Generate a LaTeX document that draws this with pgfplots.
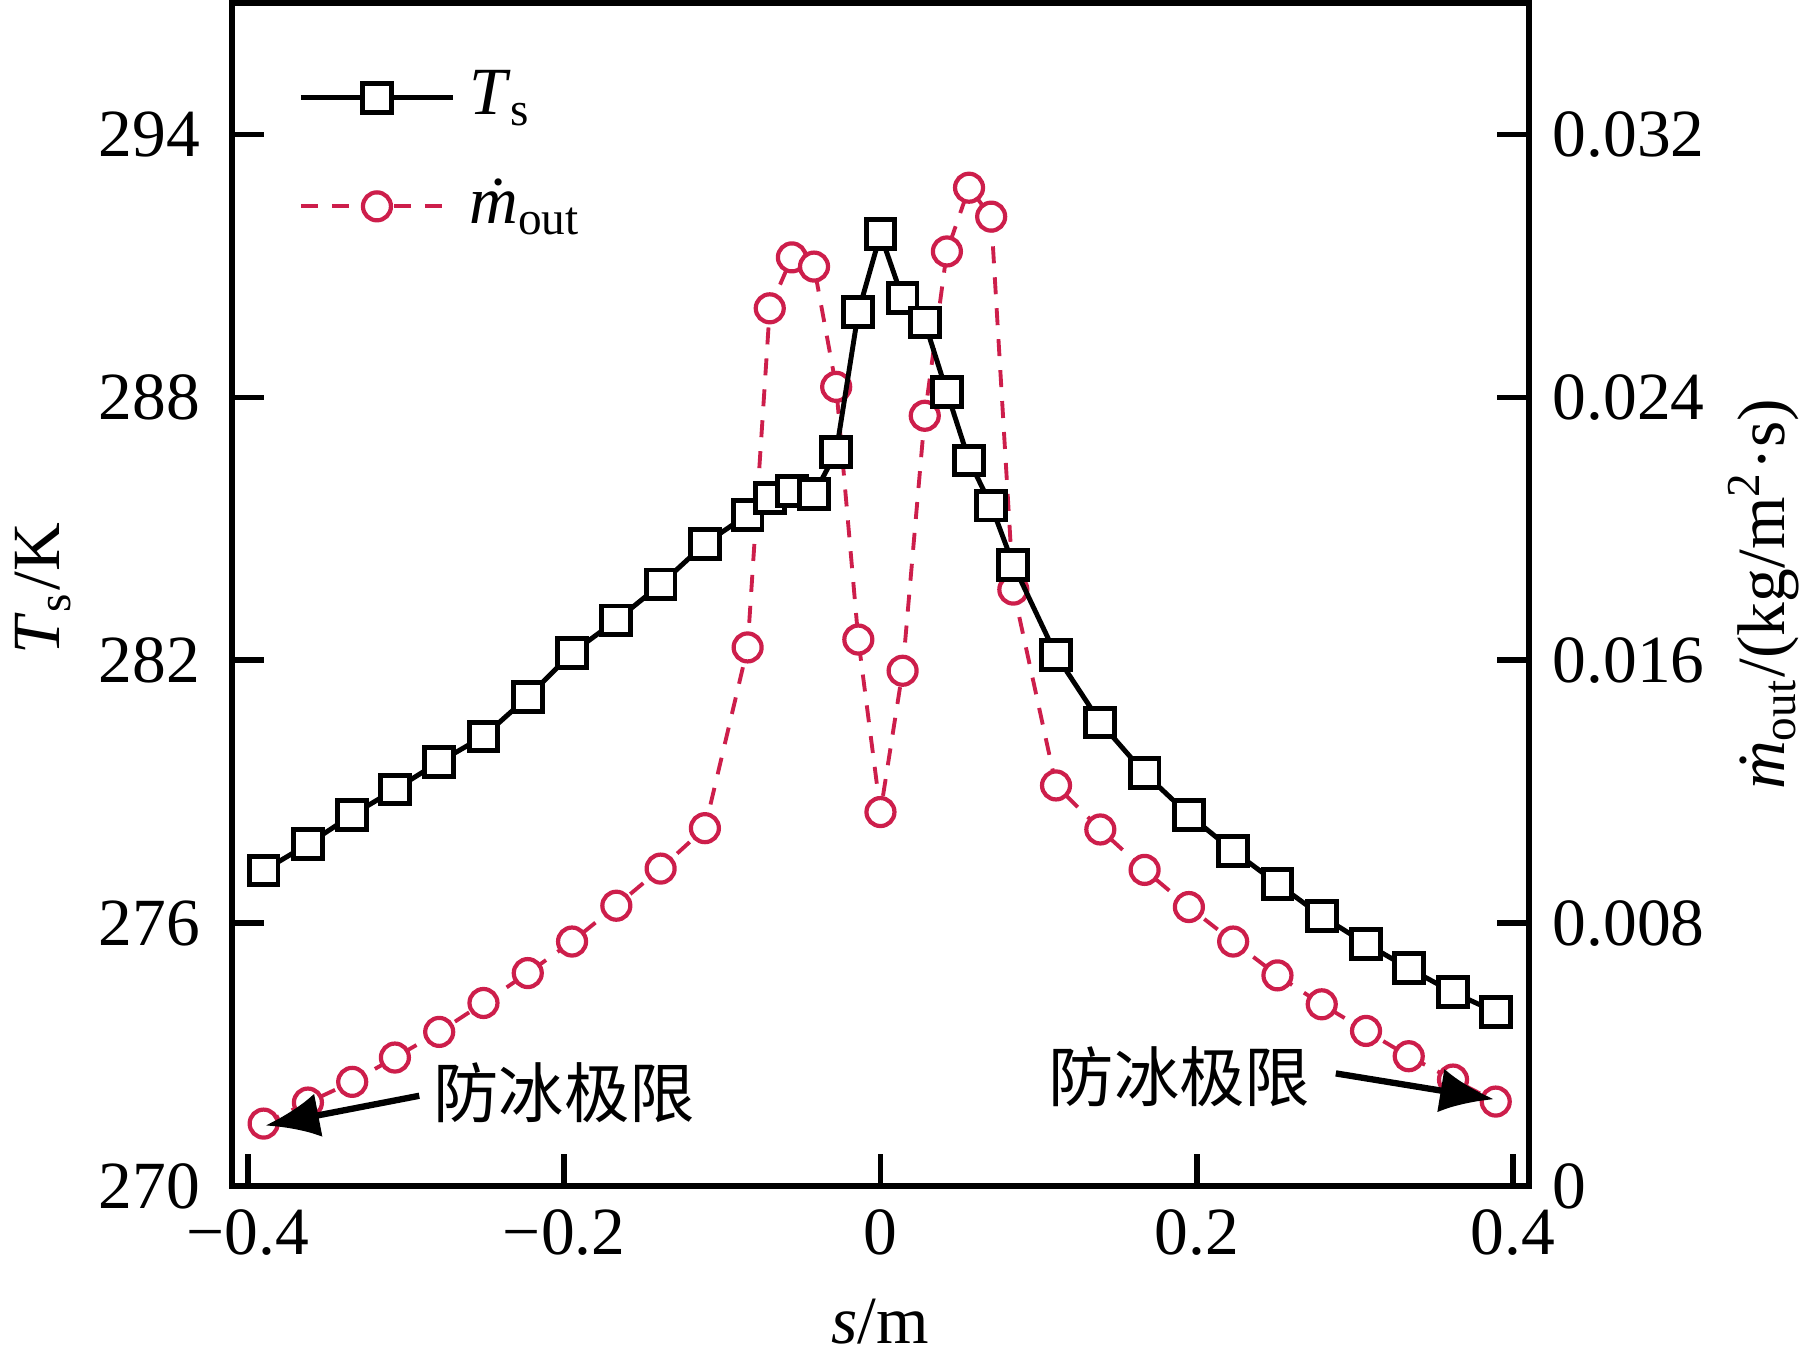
\documentclass[border=0pt]{standalone}
\usepackage{fontspec}
\setmainfont{Liberation Serif}
\newfontfamily\cjk{Noto Sans CJK SC}
\usepackage{pgfplots}
\pgfplotsset{compat=1.18}
\usepackage{pgfplotstable}
\usetikzlibrary{arrows.meta}
\definecolor{mred}{RGB}{205,30,75}

\pgfplotstableread{
x T m
-0.390 277.20 0.00190
-0.362 277.80 0.00254
-0.334 278.47 0.00317
-0.307 279.05 0.00391
-0.279 279.68 0.00469
-0.251 280.26 0.00557
-0.223 281.16 0.00648
-0.195 282.17 0.00744
-0.167 282.91 0.00853
-0.139 283.73 0.00966
-0.111 284.66 0.01089
-0.084 285.32 0.01639
-0.070 285.71 0.02671
-0.056 285.87 0.02826
-0.042 285.79 0.02798
-0.028 286.75 0.02432
-0.014 289.95 0.01663
0 291.72 0.01138
0.014 290.26 0.01568
0.028 289.71 0.02344
0.042 288.12 0.02844
0.056 286.56 0.03038
0.070 285.53 0.02950
0.084 284.18 0.01815
0.111 282.12 0.01219
0.139 280.58 0.01085
0.167 279.42 0.00962
0.195 278.47 0.00849
0.223 277.65 0.00744
0.251 276.90 0.00641
0.279 276.16 0.00553
0.307 275.53 0.00472
0.334 274.97 0.00395
0.362 274.42 0.00324
0.389 273.97 0.00257
}\data

\begin{document}
\fontsize{9.6}{11.5}\selectfont
\begin{tikzpicture}
\pgfplotsset{
  every axis/.append style={
    scale only axis, width=64.85mm, height=59.15mm,
    at={(0,0)}, anchor=south west,
    xmin=-0.41, xmax=0.41,
    tick align=inside, major tick length=1.6mm,
    axis line style={line width=0.8pt},
    every tick/.style={line width=0.8pt, black},
    /pgf/number format/assume math mode=true,
  },
}
% right axis (mass flux)
\begin{axis}[
  axis y line*=right, axis x line=none, xtick=\empty,
  ymin=0, ymax=0.036,
  ytick={0,0.008,0.016,0.024,0.032},
  yticklabels={0,0.008,0.016,0.024,0.032},
  ylabel={\textit{\.{m}}\textsubscript{out}/(kg/m\textsuperscript{2}·s)},
  every axis y label/.style={at={(axis description cs:1.181,0.5)}, anchor=center, rotate=90},
]
\addplot[mred, line width=0.55pt, dash pattern=on 0.85mm off 0.7mm,
  mark=*, mark size=0.7mm, mark options={solid, draw=mred, fill=white, line width=0.6pt}]
  table[x=x, y=m]{\data};
\end{axis}
% main axis (temperature)
\begin{axis}[
  xtick pos=left, ytick pos=left,
  ymin=270, ymax=297,
  xtick={-0.4,-0.2,0,0.2,0.4},
  xticklabels={−0.4,−0.2,0,0.2,0.4},
  ytick={270,276,282,288,294},
  yticklabels={270,276,282,288,294},
  yticklabel style={xshift=-0.4mm},
  xlabel={\textit{s}/m},
  every axis x label/.style={at={(axis description cs:0.5,-0.115)}, anchor=center},
  ylabel={\textit{T}\textsubscript{s}/K},
  every axis y label/.style={at={(axis description cs:-0.1457,0.505)}, anchor=center, rotate=90},
  legend style={draw=none, fill=none, at={(axis description cs:0,1)}, anchor=north west,
    xshift=2.2mm, yshift=-1.9mm, row sep=1.3mm},
  legend cell align=left,
  legend image code/.code={\draw[mark repeat=2, mark phase=2, #1] plot coordinates {(0mm,0mm) (3.8mm,0mm) (7.6mm,0mm)};},
]
\addplot[black, line width=0.7pt, mark=square*, mark size=0.72mm,
  mark options={solid, draw=black, fill=white, line width=0.7pt}]
  table[x=x, y=T]{\data};
\addlegendentry{\textit{T}\textsubscript{s}}
\addlegendimage{mred, line width=0.55pt, dash pattern=on 0.85mm off 0.7mm,
  mark=*, mark size=0.7mm, mark options={solid, draw=mred, fill=white, line width=0.6pt}}
\addlegendentry{\textit{\.{m}}\textsubscript{out}}
\draw[-{Latex[length=2.7mm,width=2.2mm]}, line width=0.9pt] (axis cs:-0.2916,272.06) -- (axis cs:-0.389,271.38);
\node[font=\cjk\fontsize{9.3}{11}\selectfont] at (axis cs:-0.200,272.12) {防冰极限};
\draw[-{Latex[length=2.7mm,width=2.2mm]}, line width=0.9pt] (axis cs:0.2879,272.57) -- (axis cs:0.388,271.98);
\node[font=\cjk\fontsize{9.3}{11}\selectfont] at (axis cs:0.189,272.49) {防冰极限};
\end{axis}
\pgfresetboundingbox
\useasboundingbox (-11.6mm,-8.75mm) rectangle (79.35mm,59.3mm);
\end{tikzpicture}
\end{document}
